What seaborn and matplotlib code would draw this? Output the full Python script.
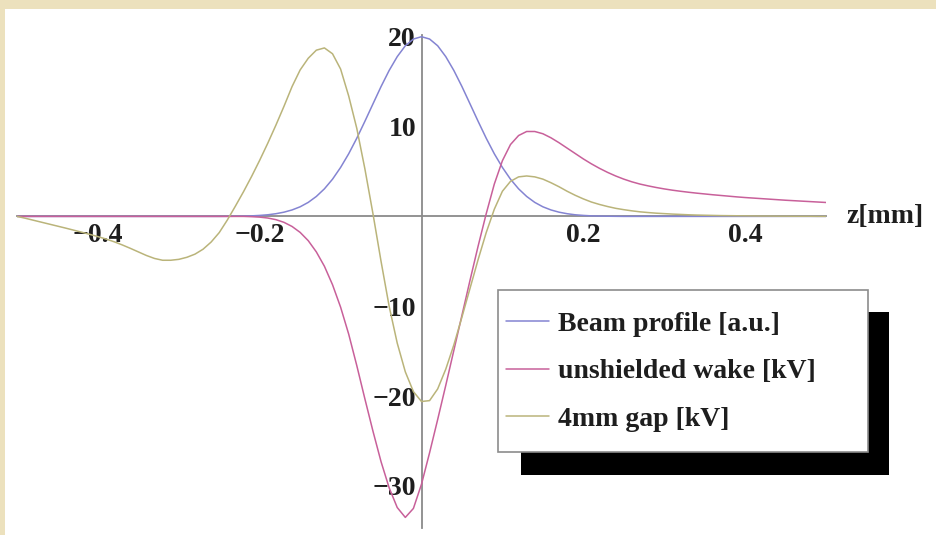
import numpy as np
import pandas as pd
import matplotlib
matplotlib.use("Agg")
import matplotlib.pyplot as plt
from matplotlib.patches import Rectangle
from matplotlib.ticker import FixedLocator
from matplotlib.font_manager import FontProperties
import seaborn as sns

# longitudinal position along the bunch [mm], 0.01 mm steps
z_mm = np.round(np.linspace(-0.5, 0.5, 101), 2)

beam_profile = (
    [0.0] * 25 +
    [0.0, 0.01, 0.02, 0.04, 0.06, 0.11, 0.18, 0.3, 0.47, 0.72,
     1.07, 1.56, 2.22, 3.07, 4.14, 5.45, 6.97, 8.7, 10.58, 12.52,
     14.45, 16.24, 17.78, 18.99, 19.74, 20.0, 19.74, 18.99, 17.78, 16.24,
     14.45, 12.52, 10.58, 8.7, 6.97, 5.45, 4.14, 3.07, 2.22, 1.56,
     1.07, 0.72, 0.47, 0.3, 0.18, 0.11, 0.06, 0.04, 0.02, 0.01,
     0.0] +
    [0.0] * 25
)

unshielded_wake = (
    [0.0] * 28 +
    [0.0, -0.03, -0.08, -0.18, -0.36, -0.66, -1.12, -1.78, -2.7, -3.95,
     -5.55, -7.6, -10.1, -13.1, -16.6, -20.3, -23.9, -27.3, -30.2, -32.4,
     -33.5, -32.5, -29.8, -26.3, -22.6, -18.8, -14.9, -11.0, -7.1, -3.3,
     0.3, 3.6, 6.2, 8.0, 9.0, 9.45, 9.45, 9.2, 8.75, 8.2,
     7.6, 7.0, 6.4, 5.85, 5.35, 4.9, 4.5, 4.15, 3.85, 3.6,
     3.4, 3.22, 3.06, 2.92, 2.8, 2.69, 2.59, 2.5, 2.41, 2.33,
     2.25, 2.17, 2.1, 2.04, 1.98, 1.92, 1.86, 1.8, 1.75, 1.7,
     1.65, 1.6, 1.55]
)

gap_4mm = [
    0.0, -0.2, -0.42, -0.64, -0.86, -1.08, -1.3, -1.53, -1.76, -2.0,
    -2.25, -2.52, -2.82, -3.17, -3.55, -3.95, -4.35, -4.68, -4.88, -4.88,
    -4.78, -4.55, -4.2, -3.65, -2.85, -1.8, -0.4, 1.15, 2.75, 4.45,
    6.25, 8.15, 10.15, 12.25, 14.45, 16.3, 17.6, 18.5, 18.75, 18.1,
    16.4, 13.4, 9.8, 5.3, 0.3, -5.0, -10.0, -14.1, -17.3, -19.5,
    -20.6, -20.5, -19.2, -17.0, -14.3, -11.2, -8.0, -4.8, -1.8, 0.8,
    2.8, 3.9, 4.4, 4.5, 4.4, 4.15, 3.75, 3.3, 2.8, 2.35,
    1.95, 1.6, 1.33, 1.1, 0.9, 0.75, 0.62, 0.51, 0.43, 0.36,
    0.31, 0.26, 0.22, 0.18, 0.15, 0.13, 0.11, 0.09, 0.08, 0.07,
    0.06, 0.05, 0.04, 0.04, 0.03, 0.03, 0.02, 0.02, 0.02, 0.01,
    0.01,
]

assert len(beam_profile) == len(unshielded_wake) == len(gap_4mm) == len(z_mm)

series_labels = ["Beam profile [a.u.]", "unshielded wake [kV]", "4mm gap [kV]"]
series_colors = ["#8484d2", "#c8609a", "#bab47a"]

x_major = [-0.4, -0.2, 0.2, 0.4]
x_major_labels = ["\u22120.4", "\u22120.2", "0.2", "0.4"]
x_minor = [-0.5, -0.45, -0.35, -0.3, -0.25, -0.15, -0.1, -0.05,
           0.05, 0.1, 0.15, 0.25, 0.3, 0.35, 0.45, 0.5]
y_major = [-30, -20, -10, 10, 20]
y_major_labels = ["\u221230", "\u221220", "\u221210", "10", "20"]
y_minor = [-34, -32, -28, -26, -24, -22, -18, -16, -14, -12,
           -8, -6, -4, -2, 2, 4, 6, 8, 12, 14, 16, 18]

df = pd.DataFrame({
    "z": np.tile(z_mm, 3),
    "value": np.concatenate([beam_profile, unshielded_wake, gap_4mm]),
    "series": np.repeat(series_labels, len(z_mm)),
})

sns.set_theme(style="white")
plt.rcParams["font.family"] = ["Liberation Serif", "DejaVu Serif"]
plt.rcParams["font.weight"] = "bold"
plt.rcParams["axes.unicode_minus"] = True

W, H = 936, 535
paper = "#ece1bd"
axis_gray = "#8a8a8a"
text_dark = "#1e1e1e"
fs = 20

fig = plt.figure(figsize=(W / 100, H / 100), dpi=100, facecolor=paper)
# white sheet behind the plot
fig.add_artist(Rectangle((5 / W, 0), 1, (H - 9) / H, transform=fig.transFigure,
                         facecolor="white", edgecolor="none", zorder=-10))

ax = fig.add_axes([17 / W, (H - 528.2) / H, 809 / W, (528.2 - 34.9) / H])
ax.set_facecolor("none")

sns.lineplot(data=df, x="z", y="value", hue="series", hue_order=series_labels,
             palette=series_colors, linewidth=1.1, ax=ax, legend=False,
             estimator=None, sort=False)

ax.set_xlim(-0.5, 0.5)
ax.set_ylim(-34.7, 20.2)
ax.set_xlabel("")
ax.set_ylabel("")

# axes crossing at the origin
for side in ("top", "right"):
    ax.spines[side].set_visible(False)
for side in ("left", "bottom"):
    ax.spines[side].set_position(("data", 0))
    ax.spines[side].set_color(axis_gray)
    ax.spines[side].set_linewidth(1.3)
    ax.spines[side].set_zorder(1)

ax.xaxis.set_major_locator(FixedLocator(x_major))
ax.xaxis.set_minor_locator(FixedLocator(x_minor))
ax.set_xticklabels(x_major_labels)
ax.yaxis.set_major_locator(FixedLocator(y_major))
ax.yaxis.set_minor_locator(FixedLocator(y_minor))
ax.set_yticklabels(y_major_labels)

ax.tick_params(axis="both", which="both", direction="in", color=axis_gray,
               width=1.0, labelsize=fs, labelcolor=text_dark)
ax.tick_params(axis="both", which="major", length=5.0)
ax.tick_params(axis="both", which="minor", length=3.2)
ax.tick_params(axis="x", which="major", pad=5)
ax.tick_params(axis="y", which="major", pad=4)
for lab in ax.get_xticklabels() + ax.get_yticklabels():
    lab.set_fontweight("bold")

ax.annotate("z[mm]", xy=(0.5, 0), xycoords="data", xytext=(15, 0),
            textcoords="offset points", ha="left", va="center",
            fontsize=fs, fontweight="bold", color=text_dark,
            annotation_clip=False)

# legend box with a solid drop shadow
box_x, box_top, box_w, box_h, shift = 498, 290, 370, 162, 23
ax.add_artist(Rectangle(((box_x + shift) / W, (H - box_top - box_h - shift) / H),
                        (box_w - 2) / W, (box_h + 1) / H, transform=fig.transFigure,
                        facecolor="black", edgecolor="none", zorder=4.7, clip_on=False))
ax.add_artist(Rectangle((box_x / W, (H - box_top - box_h) / H), box_w / W, box_h / H,
                        transform=fig.transFigure, facecolor="white",
                        edgecolor="#8c8c8c", linewidth=1.2, zorder=4.8, clip_on=False))

handles = [plt.Line2D([], [], color=c, linewidth=1.1) for c in series_colors]
leg = ax.legend(handles, series_labels, loc="upper left",
                bbox_to_anchor=(box_x / W, (H - 303) / H),
                bbox_transform=fig.transFigure, borderaxespad=0,
                frameon=False, handlelength=1.55, handletextpad=0.3,
                labelspacing=0.8, borderpad=0.3,
                prop=FontProperties(family="Liberation Serif", weight="bold", size=fs))
leg.set_zorder(5)
for t in leg.get_texts():
    t.set_color(text_dark)

fig.savefig("out.png", dpi=100, facecolor=paper)
